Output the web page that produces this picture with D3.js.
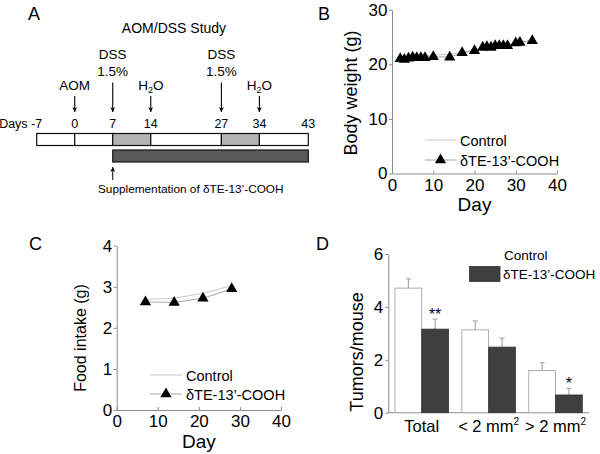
<!DOCTYPE html>
<html><head><meta charset="utf-8">
<script src="https://cdn.jsdelivr.net/npm/d3@7"></script>
<style>
body{margin:0;background:#fff}
svg{display:block}
text{font-family:"Liberation Sans",Arial,Helvetica,sans-serif;fill:#000}
</style>
</head><body>
<svg id="c" width="600" height="454"></svg>
<script>
// ---------- DATA ----------
// Panel A (study timeline)
const timelineDays = [-7, 0, 7, 14, 27, 34, 43];
const dayLabels = ["Days -7", "0", "7", "14", "27", "34", "43"];
const segStart = [-7, 0, 7, 14, 27, 34];
const segEnd   = [0, 7, 14, 27, 34, 43];
const segDSS   = [false, false, true, false, true, false];
const eventDays = [0, 7, 14, 27, 34];
const eventLabels = [["AOM"], ["DSS", "1.5%"], ["H_2O"], ["DSS", "1.5%"], ["H_2O"]];
const suppDays = [7, 43];
const titleA = "AOM/DSS Study";
const suppLabel = "Supplementation of \u03b4TE-13\u2019-COOH";

// Panel B (body weight)
const bwDays    = [2, 3, 4, 5, 6, 7, 8, 10, 14, 17, 20, 22, 23, 24, 25, 26, 27, 28, 30, 31, 34];
const bwControl = [21.2, 21.1, 21.3, 21.4, 21.4, 21.4, 21.5, 21.7, 21.8, 22.2, 22.6, 23.1, 23.3, 23.3, 23.5, 23.5, 23.6, 23.6, 24.0, 24.1, 24.4];
const bwTreated = [21.0, 20.9, 21.1, 21.3, 21.2, 21.2, 21.2, 21.4, 21.3, 22.1, 22.5, 23.1, 23.2, 23.1, 23.4, 23.4, 23.4, 23.4, 23.9, 24.0, 24.3];
const bwYTicks = [0, 10, 20, 30];
const dayTicks = [0, 10, 20, 30, 40];

// Panel C (food intake)
const fiDays    = [7, 14, 21, 28];
const fiControl = [2.69, 2.72, 2.84, 3.03];
const fiTreated = [2.63, 2.62, 2.72, 2.95];
const fiYTicks = [0, 1, 2, 3, 4];

// Panel D (tumors)
const tumorCats = ["Total", "< 2 mm", "> 2 mm"];
const tumorCatSup = ["", "2", "2"];
const tumorControl    = [4.71, 3.13, 1.59];
const tumorControlErr = [0.35, 0.34, 0.30];
const tumorTreated    = [3.16, 2.48, 0.67];
const tumorTreatedErr = [0.38, 0.34, 0.25];
const tumorSig = ["**", "", "*"];
const tumorYTicks = [0, 2, 4, 6];

const seriesNames = ["Control", "\u03b4TE-13\u2019-COOH"];

// ---------- DRAW ----------
const svg = d3.select("#c");
const AX = "#8a8a8a";
const LINE_C = "#c8c8c8", LINE_T = "#a8a8a8";

svg.append("defs").append("marker")
  .attr("id", "ah").attr("viewBox", "0 0 10 10").attr("refX", 10).attr("refY", 5)
  .attr("markerWidth", 6).attr("markerHeight", 5).attr("orient", "auto")
  .attr("markerUnits", "userSpaceOnUse")
  .append("path").attr("d", "M0,0 L10,5 L0,10 L3,5 Z").attr("fill", "#000");

function panelLetter(t, x, y) {
  svg.append("text").attr("x", x).attr("y", y).attr("font-size", 18).text(t);
}
panelLetter("A", 28, 19.5);
panelLetter("B", 318, 19.5);
panelLetter("C", 29, 250);
panelLetter("D", 316, 250);

// ---- Panel A ----
const xA = d3.scaleLinear().domain([-7, 43]).range([36.7, 308.3]);
const gA = svg.append("g");
gA.append("text").attr("x", 174).attr("y", 33).attr("text-anchor", "middle")
  .attr("font-size", 14).text(titleA);

segStart.forEach((s, i) => {
  gA.append("rect").attr("x", xA(s)).attr("y", 133.5)
    .attr("width", xA(segEnd[i]) - xA(s)).attr("height", 12)
    .attr("fill", segDSS[i] ? "#b4b4b4" : "#fff")
    .attr("stroke", "#111").attr("stroke-width", 1.2);
});
gA.append("rect").attr("x", xA(suppDays[0])).attr("y", 150)
  .attr("width", xA(suppDays[1]) - xA(suppDays[0])).attr("height", 12)
  .attr("fill", "#5a5a5a").attr("stroke", "#111").attr("stroke-width", 1.2);

timelineDays.forEach((d, i) => {
  const first = i === 0;
  gA.append("text").attr("x", first ? xA(d) + 5.5 : xA(d)).attr("y", 127.5)
    .attr("text-anchor", first ? "end" : "middle").attr("font-size", 12.5).text(dayLabels[i]);
});

function addRich(sel, str) {
  const parts = str.split("_");
  sel.append("tspan").text(parts[0]);
  for (let k = 1; k < parts.length; k++) {
    sel.append("tspan").attr("font-size", 9).attr("dy", 3).text(parts[k][0]);
    sel.append("tspan").attr("dy", -3).text(parts[k].slice(1));
  }
}
eventDays.forEach((d, i) => {
  const lines = eventLabels[i];
  const n = lines.length;
  let last = 0;
  lines.forEach((ln, j) => {
    const yb = n === 1 ? 89.5 : 58.5 + j * 17.5;
    last = yb;
    const t = gA.append("text").attr("x", xA(d)).attr("y", yb)
      .attr("text-anchor", "middle").attr("font-size", 13.5);
    addRich(t, ln);
  });
  gA.append("line").attr("x1", xA(d)).attr("x2", xA(d))
    .attr("y1", last + 6.5).attr("y2", 112)
    .attr("stroke", "#000").attr("stroke-width", 1.1).attr("marker-end", "url(#ah)");
});
gA.append("line").attr("x1", xA(suppDays[0])).attr("x2", xA(suppDays[0]))
  .attr("y1", 180).attr("y2", 167)
  .attr("stroke", "#000").attr("stroke-width", 1).attr("marker-end", "url(#ah)");
gA.append("text").attr("x", 98).attr("y", 193).attr("font-size", 11.8).text(suppLabel);

// ---- axis helper ----
function styleAxis(g) {
  g.select(".domain").attr("stroke", AX);
  g.selectAll(".tick line").attr("stroke", AX);
  g.selectAll(".tick text").attr("fill", "#000").attr("font-size", 17)
    .attr("font-family", "'Liberation Sans',Arial,sans-serif");
}
const fmt = d3.format("d");

const tri = d3.symbol().type(d3.symbolTriangle).size(55);

function linePanel(cfg) {
  const x = d3.scaleLinear().domain([0, 40]).range(cfg.xr);
  const y = d3.scaleLinear().domain(cfg.yd).range(cfg.yr);
  const g = svg.append("g");
  g.append("g").attr("transform", `translate(0,${cfg.yr[0]})`)
    .call(d3.axisBottom(x).tickValues(dayTicks).tickFormat(fmt).tickSizeInner(-3).tickSizeOuter(0).tickPadding(5))
    .call(styleAxis);
  g.append("g").attr("transform", `translate(${cfg.xr[0]},0)`)
    .call(d3.axisLeft(y).tickValues(cfg.yt).tickFormat(fmt).tickSizeInner(3).tickSizeOuter(0).tickPadding(1.5))
    .call(styleAxis);
  const ln = d3.line().x(d => x(d[0])).y(d => y(d[1]));
  g.append("path").datum(cfg.days.map((d, i) => [d, cfg.ctrl[i]]))
    .attr("d", ln).attr("fill", "none").attr("stroke", LINE_C).attr("stroke-width", 1);
  g.append("path").datum(cfg.days.map((d, i) => [d, cfg.trt[i]]))
    .attr("d", ln).attr("fill", "none").attr("stroke", LINE_T).attr("stroke-width", 1);
  g.selectAll(".pt").data(cfg.days.map((d, i) => [d, cfg.trt[i]])).enter()
    .append("path").attr("d", tri)
    .attr("transform", d => `translate(${x(d[0])},${y(d[1])})`).attr("fill", "#000");
  g.append("text").attr("x", (cfg.xr[0] + cfg.xr[1]) / 2).attr("y", cfg.dayY)
    .attr("text-anchor", "middle").attr("font-size", 19).text("Day");
  g.append("text").attr("transform", `translate(${cfg.labX},${cfg.labY}) rotate(-90)`)
    .attr("text-anchor", "middle").attr("dy", "0.35em").attr("font-size", cfg.labSize).text(cfg.label);
  // legend
  const L = cfg.leg;
  g.append("line").attr("x1", L.x0).attr("x2", L.x1).attr("y1", L.y0).attr("y2", L.y0)
    .attr("stroke", LINE_C);
  g.append("line").attr("x1", L.x0).attr("x2", L.x1).attr("y1", L.y1).attr("y2", L.y1)
    .attr("stroke", LINE_T);
  g.append("path").attr("d", tri).attr("fill", "#000")
    .attr("transform", `translate(${(L.x0 + L.x1) / 2},${L.y1})`);
  g.append("text").attr("x", L.tx).attr("y", L.y0 + 5.5).attr("font-size", 14.5).text(seriesNames[0]);
  g.append("text").attr("x", L.tx).attr("y", L.y1 + 5.5).attr("font-size", 14.5).text(seriesNames[1]);
}

// ---- Panel B ----
linePanel({
  xr: [392, 557], yr: [173.5, 9.7], yd: [0, 30], yt: bwYTicks,
  days: bwDays, ctrl: bwControl, trt: bwTreated,
  dayY: 211, label: "Body weight (g)", labX: 351, labY: 93, labSize: 18,
  leg: { x0: 425, x1: 456, y0: 140, y1: 160, tx: 460 }
});

// ---- Panel C ----
linePanel({
  xr: [116.7, 281], yr: [410, 245.7], yd: [0, 4], yt: fiYTicks,
  days: fiDays, ctrl: fiControl, trt: fiTreated,
  dayY: 448, label: "Food intake (g)", labX: 80, labY: 338, labSize: 16,
  leg: { x0: 150, x1: 182, y0: 375, y1: 394, tx: 186 }
});

// ---- Panel D ----
const yD = d3.scaleLinear().domain([0, 6]).range([412.7, 254]);
const xD = d3.scaleBand().domain(tumorCats).range([388.3, 589]).paddingInner(0.2).paddingOuter(0.1);
const xD1 = d3.scaleBand().domain(["c", "t"]).range([0, xD.bandwidth()]);
const gD = svg.append("g");
gD.append("g").attr("transform", "translate(388.3,0)")
  .call(d3.axisLeft(yD).tickValues(tumorYTicks).tickFormat(fmt).tickSizeInner(3).tickSizeOuter(0).tickPadding(2))
  .call(styleAxis);
gD.append("line").attr("x1", 388.3).attr("x2", 589).attr("y1", yD(0)).attr("y2", yD(0))
  .attr("stroke", AX);

tumorCats.forEach((c, i) => {
  const groups = [
    { k: "c", v: tumorControl[i], e: tumorControlErr[i], fill: "#fff", stroke: "#9a9a9a" },
    { k: "t", v: tumorTreated[i], e: tumorTreatedErr[i], fill: "#3f3f3f", stroke: "#333" }
  ];
  groups.forEach(b => {
    const bx = xD(c) + xD1(b.k), bw = xD1.bandwidth(), cx = bx + bw / 2;
    gD.append("line").attr("x1", cx).attr("x2", cx).attr("y1", yD(b.v)).attr("y2", yD(b.v + b.e))
      .attr("stroke", "#9a9a9a");
    gD.append("line").attr("x1", cx - 2.5).attr("x2", cx + 2.5).attr("y1", yD(b.v + b.e)).attr("y2", yD(b.v + b.e))
      .attr("stroke", "#9a9a9a");
    gD.append("rect").attr("x", bx).attr("y", yD(b.v)).attr("width", bw)
      .attr("height", yD(0) - yD(b.v)).attr("fill", b.fill).attr("stroke", b.stroke).attr("stroke-width", 0.8);
  });
  if (tumorSig[i]) {
    const cx = xD(c) + xD1("t") + xD1.bandwidth() / 2;
    gD.append("text").attr("x", cx).attr("y", yD(tumorTreated[i] + tumorTreatedErr[i]) + 1)
      .attr("text-anchor", "middle").attr("font-size", 16).text(tumorSig[i]);
  }
  const t = gD.append("text").attr("x", xD(c) + xD.bandwidth() / 2).attr("y", 432)
    .attr("text-anchor", "middle").attr("font-size", 16.5);
  t.append("tspan").text(c);
  if (tumorCatSup[i]) t.append("tspan").attr("font-size", 10).attr("dy", -7).text(tumorCatSup[i]);
});
gD.append("text").attr("transform", "translate(357,352) rotate(-90)")
  .attr("text-anchor", "middle").attr("dy", "0.35em").attr("font-size", 18).text("Tumors/mouse");
// legend D
gD.append("rect").attr("x", 469).attr("y", 246).attr("width", 31).attr("height", 15).attr("fill", "#fff");
gD.append("rect").attr("x", 469.5).attr("y", 266.5).attr("width", 30.5).attr("height", 15)
  .attr("fill", "#3f3f3f").attr("stroke", "#333").attr("stroke-width", 0.8);
gD.append("text").attr("x", 504).attr("y", 259.5).attr("font-size", 13.5).text(seriesNames[0]);
gD.append("text").attr("x", 503).attr("y", 279).attr("font-size", 13.5).text(seriesNames[1]);
</script>
</body></html>
